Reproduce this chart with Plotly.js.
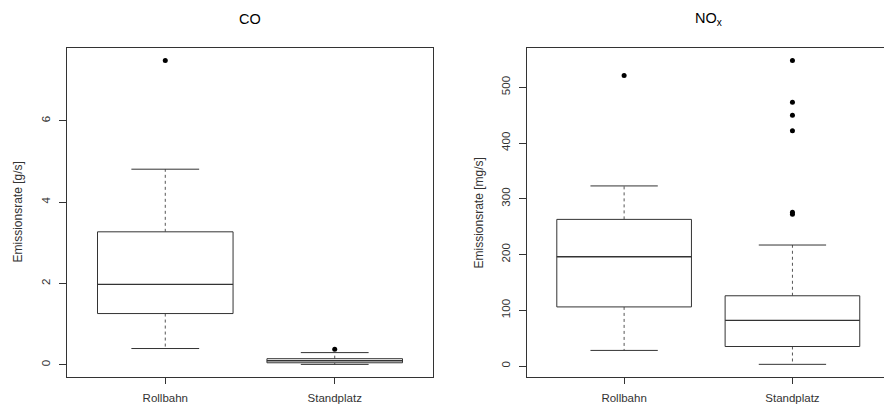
<!DOCTYPE html>
<html>
<head>
<meta charset="utf-8">
<script src="https://cdn.plot.ly/plotly-3.0.1.min.js"></script>
<style>html,body{margin:0;padding:0;background:#fff;}#chart{width:884px;height:411px;}</style>
</head>
<body>
<div id="chart"></div>
<script>
// ---- data ----
const categories = ['Rollbahn', 'Standplatz'];
const catPos = [1, 2];

// CO [g/s]
const coLower  = [0.40, 0.01];
const coQ1     = [1.26, 0.05];
const coMedian = [1.98, 0.10];
const coQ3     = [3.27, 0.15];
const coUpper  = [4.81, 0.30];
const coOutliersRollbahn   = [7.48];
const coOutliersStandplatz = [0.38];

// NOx [mg/s]
const noxLower  = [28, 3];
const noxQ1     = [106, 35];
const noxMedian = [196, 82];
const noxQ3     = [263, 126];
const noxUpper  = [323, 217];
const noxOutliersRollbahn   = [521];
const noxOutliersStandplatz = [548, 473, 450, 422, 276, 272];

const coTicks  = [0, 2, 4, 6];
const noxTicks = [0, 100, 200, 300, 400, 500];

// ---- styling ----
const lineCol = '#333333';
const dashCol = '#555555';
const fontFam = 'Liberation Sans, Arial, sans-serif';
const boxHalf = 0.4, capHalf = 0.2;

function boxTraces(lower, q1, med, q3, upper, outl, xa, ya) {
  const tr = [];
  const common = {xaxis: xa, yaxis: ya, mode: 'lines', hoverinfo: 'skip', showlegend: false};
  for (let i = 0; i < catPos.length; i++) {
    const c = catPos[i];
    // dashed whiskers
    tr.push(Object.assign({}, common, {x: [c, c], y: [q3[i], upper[i]], line: {color: dashCol, width: 1, dash: '3px,3px'}}));
    tr.push(Object.assign({}, common, {x: [c, c], y: [q1[i], lower[i]], line: {color: dashCol, width: 1, dash: '3px,3px'}}));
    // caps
    tr.push(Object.assign({}, common, {x: [c - capHalf, c + capHalf], y: [upper[i], upper[i]], line: {color: lineCol, width: 1}}));
    tr.push(Object.assign({}, common, {x: [c - capHalf, c + capHalf], y: [lower[i], lower[i]], line: {color: lineCol, width: 1}}));
    // box
    tr.push(Object.assign({}, common, {
      x: [c - boxHalf, c + boxHalf, c + boxHalf, c - boxHalf, c - boxHalf],
      y: [q1[i], q1[i], q3[i], q3[i], q1[i]],
      fill: 'toself', fillcolor: '#ffffff',
      line: {color: lineCol, width: 1}}));
    // median
    tr.push(Object.assign({}, common, {x: [c - boxHalf, c + boxHalf], y: [med[i], med[i]], line: {color: lineCol, width: 1.3}}));
    // outliers
    tr.push({xaxis: xa, yaxis: ya, type: 'scatter', mode: 'markers', hoverinfo: 'skip', showlegend: false,
      x: outl[i].map(() => c), y: outl[i],
      marker: {color: '#000000', size: 5, symbol: 'circle'}});
  }
  return tr;
}

const traces = []
  .concat(boxTraces(coLower, coQ1, coMedian, coQ3, coUpper, [coOutliersRollbahn, coOutliersStandplatz], 'x', 'y'))
  .concat(boxTraces(noxLower, noxQ1, noxMedian, noxQ3, noxUpper, [noxOutliersRollbahn, noxOutliersStandplatz], 'x2', 'y2'));

const W = 884, H = 411;
const yDom = [(H - 377) / H, (H - 48) / H];

const axBase = {
  showgrid: false, zeroline: false, showline: true, linecolor: lineCol, linewidth: 1,
  ticks: 'outside', ticklen: 7, tickwidth: 1, tickcolor: lineCol,
  tickfont: {family: fontFam, size: 11.5, color: '#333333'}
};

const layout = {
  width: W, height: H,
  margin: {l: 0, r: 0, t: 0, b: 0},
  paper_bgcolor: '#ffffff', plot_bgcolor: '#ffffff',
  showlegend: false,
  xaxis: Object.assign({}, axBase, {domain: [67 / W, 433 / W], range: [0.42, 2.58], tickvals: catPos, ticktext: categories, mirror: true, ticklabelstandoff: 4, ticklen: 6}),
  yaxis: Object.assign({}, axBase, {domain: yDom, range: [-0.30, 7.79], tickvals: coTicks, ticktext: coTicks.map(String), tickangle: -90, mirror: true, ticklabelstandoff: 4}),
  xaxis2: Object.assign({}, axBase, {domain: [526.5 / W, 1], range: [0.42, 2.544], tickvals: catPos, ticktext: categories, mirror: true, anchor: 'y2', ticklabelstandoff: 4, ticklen: 6}),
  yaxis2: Object.assign({}, axBase, {domain: yDom, range: [-19.7, 570.4], tickvals: noxTicks, ticktext: noxTicks.map(String), tickangle: -90, mirror: false, anchor: 'x2', ticklabelstandoff: 4}),
  annotations: [
    {text: 'CO', xref: 'x', x: 1.5, yref: 'paper', y: (H - 19) / H, xanchor: 'center', yanchor: 'middle', showarrow: false,
     font: {family: fontFam, size: 14.5, color: '#000000'}},
    {text: 'NO<sub>x</sub>', xref: 'x2', x: 1.5, yref: 'paper', y: (H - 19) / H, xanchor: 'center', yanchor: 'middle', showarrow: false,
     font: {family: fontFam, size: 14.5, color: '#000000'}},
    {text: 'Emissionsrate [g/s]', xref: 'paper', x: 17 / W, yref: 'paper', y: (H - 212.5) / H, xanchor: 'center', yanchor: 'middle', textangle: -90, showarrow: false,
     font: {family: fontFam, size: 12, color: '#333333'}},
    {text: 'Emissionsrate [mg/s]', xref: 'paper', x: 478 / W, yref: 'paper', y: (H - 212.5) / H, xanchor: 'center', yanchor: 'middle', textangle: -90, showarrow: false,
     font: {family: fontFam, size: 12, color: '#333333'}}
  ]
};

Plotly.newPlot('chart', traces, layout, {staticPlot: true, displayModeBar: false});
</script>
</body>
</html>
